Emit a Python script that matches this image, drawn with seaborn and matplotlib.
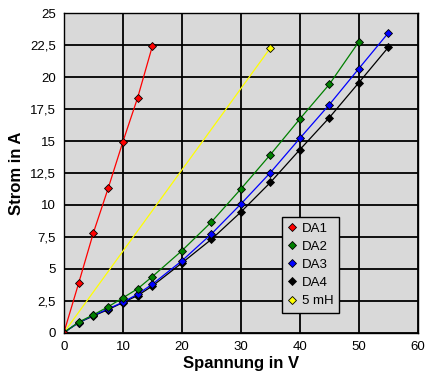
import pandas as pd
import seaborn as sns
import matplotlib.pyplot as plt
from matplotlib.lines import Line2D
from matplotlib.ticker import FuncFormatter, MultipleLocator

# Messwerte: Spannung (V) und Strom (A)
u_da1 = [0, 2.5, 5, 7.5, 10, 12.5, 15]
i_da1 = [0, 3.87, 7.82, 11.3, 14.95, 18.4, 22.45]

u_da = [0, 2.5, 5, 7.5, 10, 12.5, 15, 20, 25, 30, 35, 40, 45, 50, 55]
i_da2 = [0, 0.82, 1.39, 2.02, 2.72, 3.43, 4.39, 6.41, 8.66, 11.25, 13.94, 16.74, 19.45, 22.78]
i_da3 = [0, 0.78, 1.35, 1.85, 2.38, 3.01, 3.79, 5.62, 7.72, 10.07, 12.53, 15.22, 17.86, 20.68, 23.48]
i_da4 = [0, 0.78, 1.3, 1.8, 2.35, 2.9, 3.65, 5.45, 7.3, 9.44, 11.76, 14.33, 16.84, 19.58, 22.35]

u_5mh = [0, 35]
i_5mh = [0, 22.3]

names = ["DA1", "DA2", "DA3", "DA4", "5 mH"]
colors = ["#ff0000", "#008000", "#0000ff", "#000000", "#ffff00"]

sns.set_style("white")
plt.rcParams['font.family'] = ['Liberation Sans', 'DejaVu Sans']
plt.rcParams['text.color'] = 'black'
plt.rcParams['axes.labelcolor'] = 'black'
plt.rcParams['xtick.color'] = 'black'
plt.rcParams['ytick.color'] = 'black'

fig = plt.figure(figsize=(4.29, 3.84), dpi=100)
ax = fig.add_axes([0.149, 0.134, 0.825, 0.831])
ax.set_facecolor("#d9d9d9")

mk = dict(marker="D", markersize=4, markeredgecolor="black", markeredgewidth=0.6, linewidth=0.9)

# 5 mH zuerst, Marker nur am Ende
sns.lineplot(x=u_5mh, y=i_5mh, color=colors[4], ax=ax, markevery=[1], **mk)
sns.lineplot(x=u_da[:len(i_da4)], y=i_da4, color=colors[3], ax=ax, **mk)
sns.lineplot(x=u_da[:len(i_da3)], y=i_da3, color=colors[2], ax=ax, **mk)
sns.lineplot(x=u_da[:len(i_da2)], y=i_da2, color=colors[1], ax=ax, **mk)
sns.lineplot(x=u_da1, y=i_da1, color=colors[0], ax=ax, **mk)

ax.set_xlim(0, 60)
ax.set_ylim(0, 25)
ax.xaxis.set_major_locator(MultipleLocator(10))
ax.yaxis.set_major_locator(MultipleLocator(2.5))
ax.yaxis.set_major_formatter(FuncFormatter(lambda v, p: f"{v:g}".replace(".", ",")))
ax.grid(True, color="black", linewidth=1.3)
ax.set_axisbelow(True)
for s in ax.spines.values():
    s.set_color("black")
    s.set_linewidth(1)
ax.tick_params(direction="out", length=4, width=1, color="black", labelsize=9.5, pad=2)

ax.set_xlabel("Spannung in V", fontsize=12, fontweight="bold", labelpad=2)
ax.set_ylabel("Strom in A", fontsize=12, fontweight="bold", labelpad=4)

handles = [Line2D([], [], linestyle="none", marker="D", markersize=4, color=c,
                  markeredgecolor="black", markeredgewidth=0.6) for c in colors]
leg = ax.legend(handles, names, loc="upper left", bbox_to_anchor=(0.617, 0.362),
                frameon=True, fancybox=False, facecolor="#d9d9d9", edgecolor="black",
                framealpha=1, fontsize=9.5, handlelength=0.6, handletextpad=0.5,
                labelspacing=0.45, borderpad=0.4, borderaxespad=0)
leg.get_frame().set_linewidth(1)

fig.savefig("out.png", dpi=100)
